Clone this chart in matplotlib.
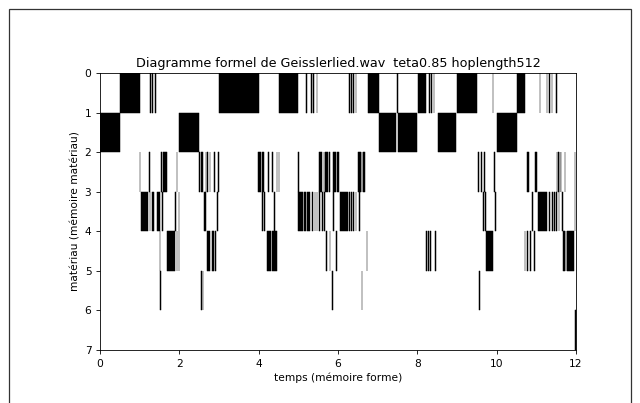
import matplotlib
matplotlib.use("Agg")
import matplotlib.pyplot as plt
from matplotlib.patches import Rectangle

# Diagramme formel : pour chaque matériau (ligne), les intervalles de temps (debut, fin)
titre = "Diagramme formel de Geisslerlied.wav  teta0.85 hoplength512"

mat0 = [(0.50, 1.00), (1.27, 1.28), (1.32, 1.34), (1.38, 1.40), (3.00, 4.00),
        (4.50, 5.00), (5.20, 5.22), (5.33, 5.35), (5.37, 5.39), (5.47, 5.48),
        (6.27, 6.29), (6.33, 6.35), (6.38, 6.40), (6.45, 6.46), (6.75, 7.04),
        (7.49, 7.50), (8.01, 8.22), (8.30, 8.32), (8.35, 8.37), (8.41, 8.43),
        (9.00, 9.50), (9.90, 9.91), (10.51, 10.71), (11.08, 11.09), (11.26, 11.28),
        (11.33, 11.35), (11.39, 11.40), (11.50, 11.52)]
mat1 = [(0.00, 0.50), (2.00, 2.50), (7.04, 7.46), (7.50, 7.99), (8.51, 8.97),
        (10.00, 10.50)]
mat2 = [(1.00, 1.01), (1.24, 1.26), (1.55, 1.56), (1.60, 1.68), (1.93, 1.95),
        (2.50, 2.51), (2.54, 2.60), (2.67, 2.68), (2.71, 2.73), (2.77, 2.78),
        (2.88, 2.90), (2.97, 2.99), (3.99, 4.05), (4.08, 4.14), (4.24, 4.25),
        (4.33, 4.35), (4.45, 4.46), (4.50, 4.52), (5.00, 5.01), (5.52, 5.60),
        (5.64, 5.65), (5.67, 5.74), (5.77, 5.80), (5.88, 5.95), (5.98, 6.03),
        (6.51, 6.57), (6.60, 6.61), (6.63, 6.68), (9.54, 9.56), (9.60, 9.62),
        (9.68, 9.70), (9.93, 9.95), (10.76, 10.82), (10.97, 11.01), (11.51, 11.53),
        (11.55, 11.57), (11.59, 11.60), (11.62, 11.63), (11.72, 11.73), (11.97, 11.98)]
mat3 = [(1.03, 1.22), (1.26, 1.27), (1.31, 1.36), (1.43, 1.50), (1.56, 1.58),
        (1.89, 1.91), (1.98, 2.00), (2.62, 2.67), (2.96, 2.98), (4.08, 4.10),
        (4.14, 4.16), (4.39, 4.41), (5.00, 5.12), (5.14, 5.20), (5.22, 5.29),
        (5.34, 5.36), (5.41, 5.43), (5.47, 5.48), (5.53, 5.55), (5.59, 5.61),
        (5.65, 5.67), (5.87, 5.89), (6.06, 6.24), (6.28, 6.30), (6.34, 6.36),
        (6.39, 6.41), (6.45, 6.46), (6.54, 6.56), (9.65, 9.67), (9.71, 9.73),
        (9.96, 9.98), (10.90, 10.92), (11.05, 11.26), (11.33, 11.35), (11.39, 11.41),
        (11.45, 11.47), (11.50, 11.52), (11.56, 11.57), (11.64, 11.66), (11.97, 11.98)]
mat4 = [(1.50, 1.51), (1.70, 1.89), (1.93, 1.94), (1.98, 1.99), (2.71, 2.78),
        (2.82, 2.84), (2.86, 2.88), (2.91, 2.93), (4.20, 4.30), (4.33, 4.45),
        (5.71, 5.73), (5.79, 5.81), (5.95, 5.97), (6.72, 6.74), (8.23, 8.25),
        (8.28, 8.29), (8.33, 8.35), (8.44, 8.46), (9.73, 9.91), (10.71, 10.72),
        (10.77, 10.79), (10.84, 10.86), (10.94, 10.96), (11.68, 11.73),
        (11.75, 11.76), (11.77, 11.96)]
mat5 = [(1.52, 1.53), (2.54, 2.56), (2.59, 2.60), (5.86, 5.87), (6.60, 6.61),
        (9.56, 9.57)]
mat6 = [(11.97, 12.00)]

materiaux = [mat0, mat1, mat2, mat3, mat4, mat5, mat6]

fig = plt.figure(figsize=(6.4, 4.03), dpi=100)
ax = fig.add_axes([100/640, 1-350/403, 476/640, 277/403])

for i, mat in enumerate(materiaux):
    ax.broken_barh([(a, b-a) for a, b in mat], (i, 1), facecolors='black',
                   edgecolor='black', linewidth=0.35)

ax.set_xlim(0, 12)
ax.set_ylim(7, 0)
ax.set_xticks(range(0, 13, 2))
ax.set_yticks(range(0, 8))
ax.tick_params(labelsize=7.7, length=2.7, width=0.6)
for s in ax.spines.values():
    s.set_linewidth(0.6)
ax.set_title(titre, fontsize=9.2, pad=4.5)
ax.set_xlabel("temps (mémoire forme)", fontsize=7.7, labelpad=3)
ax.set_ylabel("matériau (mémoire matériau)", fontsize=7.7, labelpad=3)

# cadre autour de la figure
fig.patches.append(Rectangle((9/640, -0.05), 622/640, 1.05-9/403, transform=fig.transFigure,
                             fill=False, edgecolor='#333333', linewidth=0.9))

fig.savefig("out.png", dpi=100)
